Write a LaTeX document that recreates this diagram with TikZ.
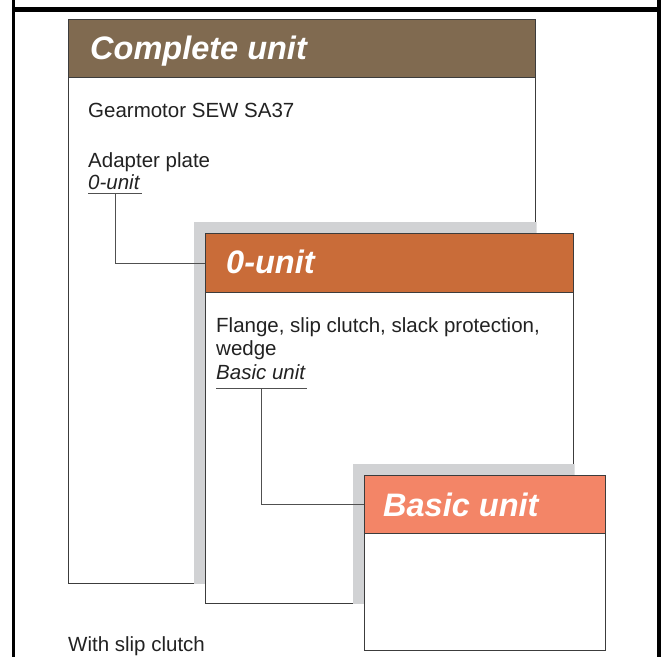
\documentclass[tikz,border=0pt]{standalone}
\usepackage{fontspec}
\setmainfont{Liberation Sans}
\definecolor{cuBrown}{HTML}{806A50}
\definecolor{zuOrange}{HTML}{C96C39}
\definecolor{buSalmon}{HTML}{F38567}
\definecolor{shadowGray}{HTML}{D1D2D4}
\definecolor{edgeGray}{HTML}{3C3C3C}
\definecolor{lineGray}{HTML}{505050}
\definecolor{inkGray}{HTML}{222222}
\begin{document}
\begin{tikzpicture}[x=1pt,y=-1pt,
  boxbody/.style={draw=edgeGray, line width=1pt, fill=white, inner sep=0pt, anchor=north west},
  boxhead/.style={draw=edgeGray, line width=1.2pt, inner sep=0pt, anchor=north west},
  headtext/.style={inner sep=0pt, anchor=base west, text=white, font=\fontsize{32.5}{36}\selectfont\bfseries\itshape},
  bodytext/.style={inner sep=0pt, anchor=base west, text=inkGray, font=\fontsize{20.5}{23}\selectfont},
  bodyital/.style={bodytext, font=\fontsize{20.5}{23}\selectfont\itshape},
  conn/.style={draw=lineGray, line width=1pt},
  shade/.style={fill=shadowGray}]
\useasboundingbox (0,0) rectangle (665,657);
% frame
\draw[line width=5pt] (12,9.7) -- (661.2,9.7);
\draw[line width=3pt] (13.5,0) -- (13.5,657);
\draw[line width=3.7pt] (659.3,0) -- (659.3,657);

% Complete unit
\node[boxbody, minimum width=467pt, minimum height=564pt] (cbox) at (68,19) {};
\node[boxhead, fill=cuBrown, minimum width=467pt, minimum height=58pt] (chdr) at (68,19) {};
\node[headtext] (ctitle) at (90,59) {Complete unit};
\node[bodytext] (t1) at (88,117) {Gearmotor SEW SA37};
\node[bodytext] (t2) at (88,167) {Adapter plate};
\node[bodyital] (t3) at (88,189) {0-unit};
\coordinate (u1a) at (88,193);
\coordinate (u1b) at (142,193);
\coordinate (k1) at (115,193);

% shadow of 0-unit, clipped to complete unit
\begin{scope}
  \clip ([shift={(-0.6pt,0.6pt)}]cbox.south west) rectangle ([shift={(0.6pt,-0.6pt)}]cbox.north east);
  \fill[shade] (194,222) rectangle (562,592);
\end{scope}

% 0-unit
\node[boxbody, minimum width=368pt, minimum height=370pt] (obox) at (205,233) {};
\node[boxhead, fill=zuOrange, minimum width=368pt, minimum height=59pt] (ohdr) at (205,233) {};
\node[headtext] (otitle) at (226,273) {0-unit};
\node[bodytext] (t4) at (216,332) {Flange, slip clutch, slack protection,};
\node[bodytext] (t5) at (216,355) {wedge};
\node[bodyital] (t6) at (216,379) {Basic unit};
\coordinate (u2a) at (216,388);
\coordinate (u2b) at (307,388);
\coordinate (k2) at (261,388);

% shadow of basic unit, clipped to 0-unit
\begin{scope}
  \clip ([shift={(-0.6pt,0.6pt)}]obox.south west) rectangle ([shift={(0.6pt,-0.6pt)}]obox.north east);
  \fill[shade] (353,464) rectangle (594,639);
\end{scope}

% Basic unit
\node[boxbody, minimum width=241pt, minimum height=175pt] (bbox) at (364,475) {};
\node[boxhead, fill=buSalmon, minimum width=241pt, minimum height=58pt] (bhdr) at (364,475) {};
\node[headtext] (btitle) at (383,516) {Basic unit};

% underlines and connectors
\draw[conn] (u1a) -- (u1b);
\draw[conn] (k1) |- (ohdr.west);
\draw[conn] (u2a) -- (u2b);
\draw[conn] (k2) |- (bhdr.west);

\node[bodytext] (t7) at (68,651) {With slip clutch};
\end{tikzpicture}
\end{document}
